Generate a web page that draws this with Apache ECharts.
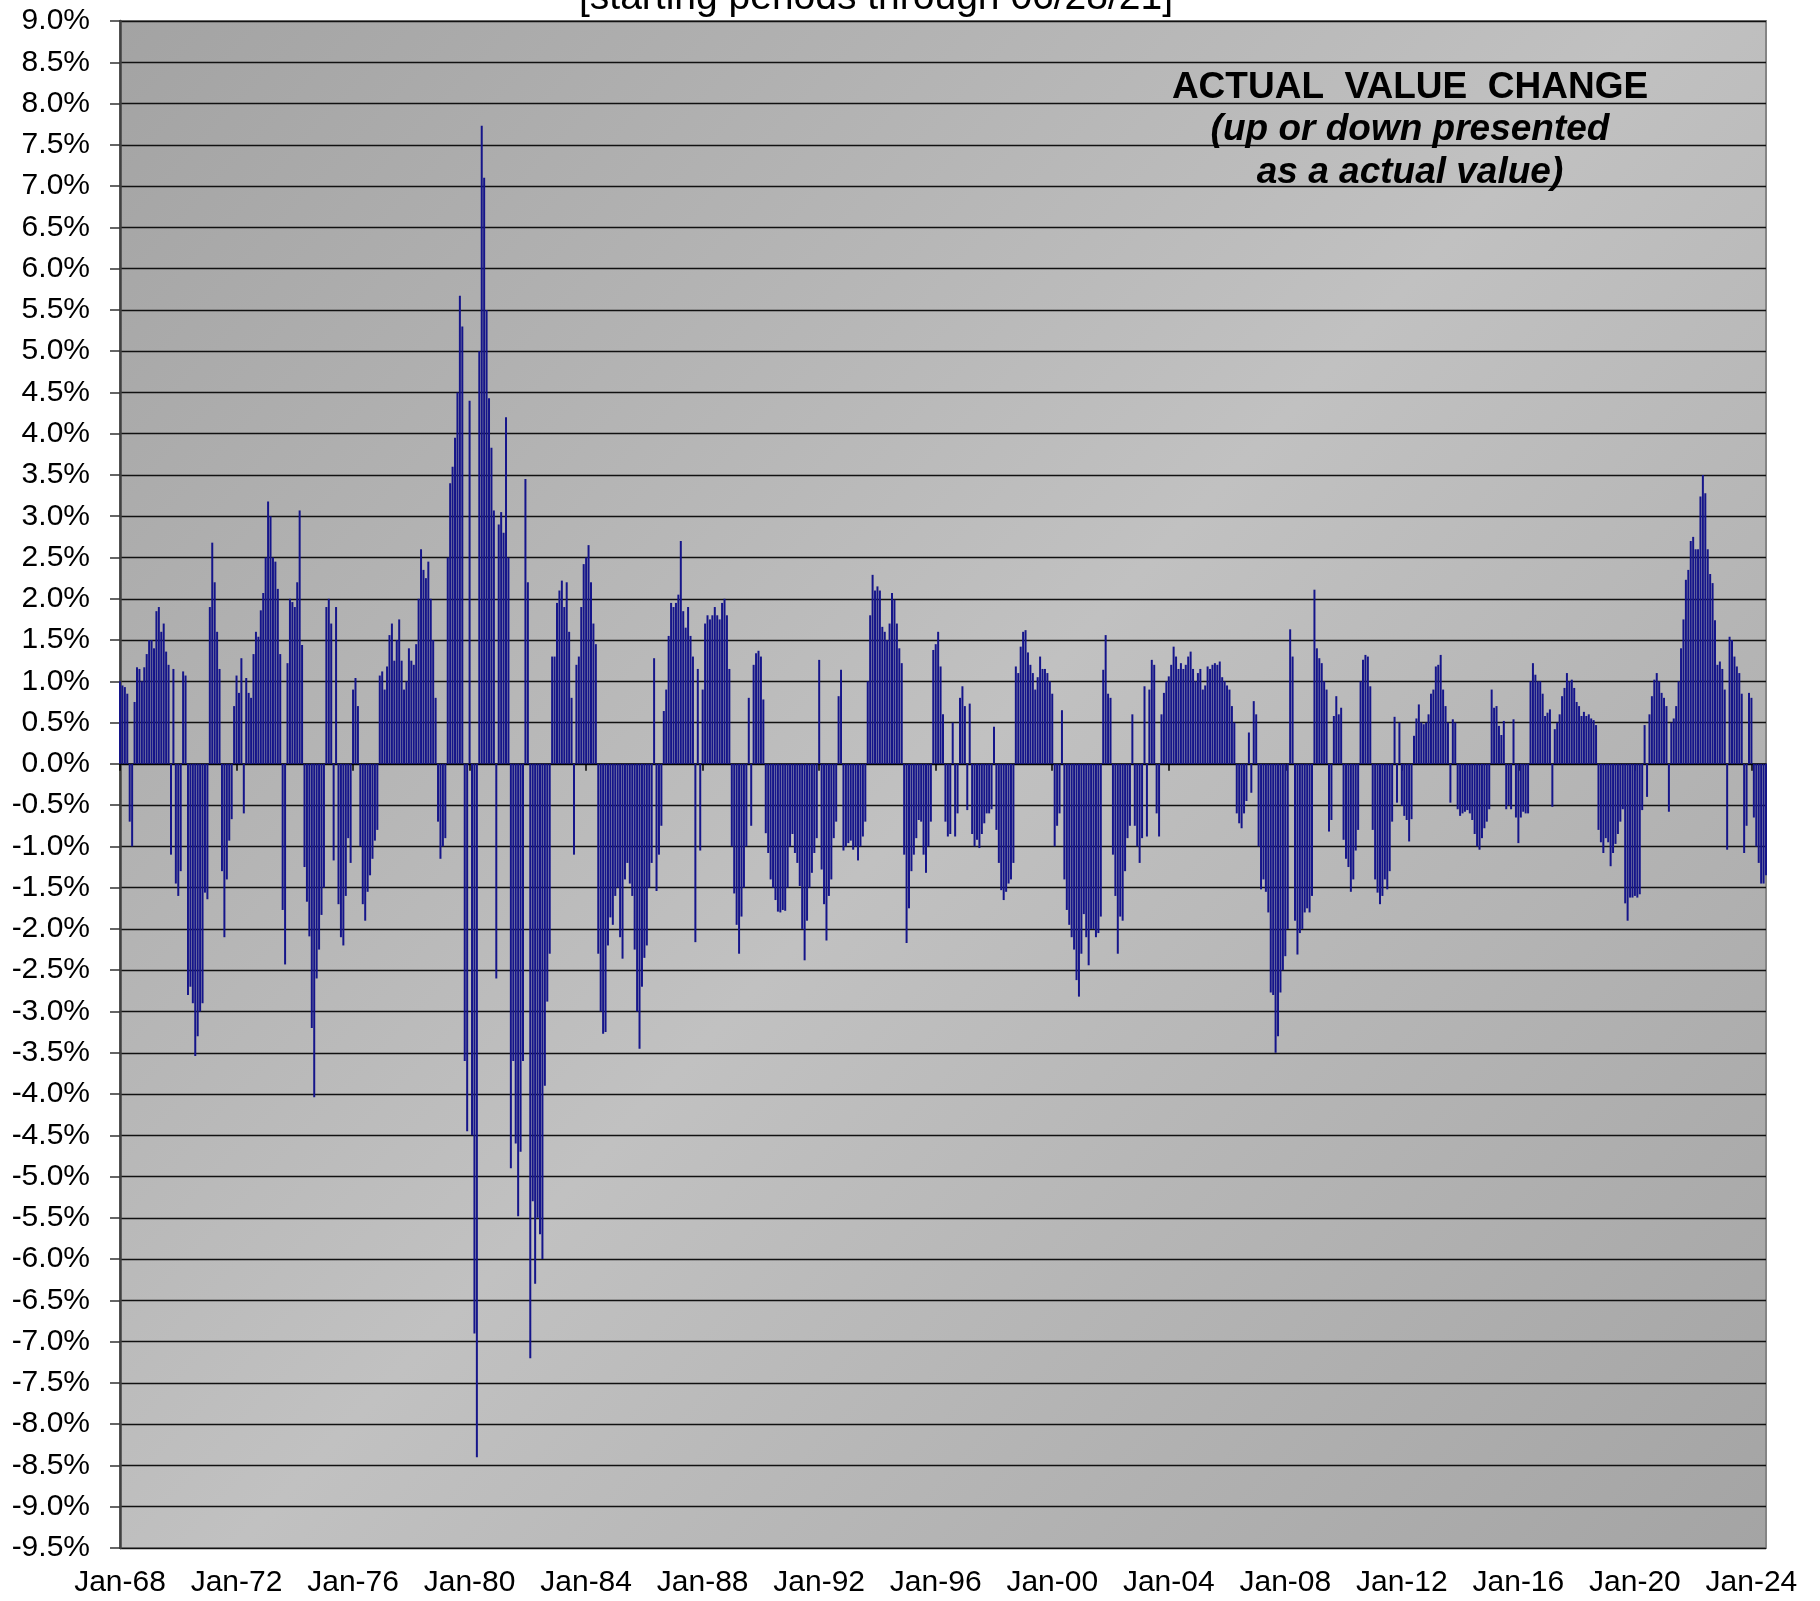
<!DOCTYPE html>
<html>
<head>
<meta charset="utf-8">
<script src="https://cdn.jsdelivr.net/npm/echarts@6/dist/echarts.min.js"></script>
<style>
html,body{margin:0;padding:0;background:#ffffff;}
#chart{width:1820px;height:1601px;}
</style>
</head>
<body>
<div id="chart"></div>
<script>
// ---- text ----
const titleText = '[starting periods through 06/28/21]';
const noteLines = ['ACTUAL  VALUE  CHANGE', '(up or down presented', 'as a actual value)'];
const monthNames = ['Jan','Feb','Mar','Apr','May','Jun','Jul','Aug','Sep','Oct','Nov','Dec'];
const startYear = 1968;
const labelEveryMonths = 48;   // tick labels Jan-68, Jan-72, ... Jan-24
const yMin = -9.5, yMax = 9.0, yStep = 0.5;

// ---- monthly values (%) ----
const v1968to1975 = [
  1.0, 0.95, 0.93, 0.85, -0.7, -1.0, 0.75, 1.17, 1.15, 1.0, 1.17, 1.33,
  1.5, 1.5, 1.4, 1.85, 1.9, 1.6, 1.7, 1.36, 1.2, -1.1, 1.15, -1.45,
  -1.6, -1.3, 1.12, 1.07, -2.8, -2.7, -2.9, -3.54, -3.3, -3.0, -2.9, -1.56,
  -1.64, 1.9, 2.68, 2.2, 1.6, 1.15, -1.3, -2.1, -1.4, -0.93, -0.67, 0.7,
  1.07, 0.86, 1.28, -0.6, 1.04, 0.86, 0.8, 1.33, 1.6, 1.54, 1.86, 2.07,
  2.5, 3.18, 3.0, 2.5, 2.45, 2.12, 1.33, -1.77, -2.43, 1.22, 2.0, 1.96,
  1.9, 2.2, 3.07, 1.44, -1.25, -1.67, -2.09, -3.2, -4.04, -2.6, -2.25, -1.83,
  -1.5, 1.9, 2.0, 1.7, -1.17, 1.9, -1.7, -2.1, -2.2, -1.6, -0.9, -1.2
];
const v1976to1983 = [
  0.9, 1.04, 0.7, -1.0, -1.7, -1.9, -1.55, -1.35, -1.15, -0.93, -0.8, 1.07,
  1.12, 0.9, 1.18, 1.56, 1.7, 1.25, 1.5, 1.75, 1.25, 0.9, 1.0, 1.4,
  1.25, 1.2, 1.45, 2.0, 2.6, 2.35, 2.25, 2.45, 2.0, 1.5, 0.8, -0.7,
  -1.15, -1.0, -0.9, 2.5, 3.4, 3.6, 3.95, 4.5, 5.67, 5.3, -3.6, -4.45,
  4.4, -4.5, -6.9, -8.4, 5.0, 7.73, 7.1, 5.5, 4.43, 3.83, 3.07, -2.6,
  2.9, 3.05, 2.8, 4.2, 2.5, -4.9, -3.6, -4.6, -5.48, -4.7, -3.6, 3.45,
  2.2, -7.2, -5.3, -6.3, -5.5, -5.7, -6.0, -3.9, -2.88, -2.3, 1.3, 1.3,
  1.95, 2.1, 2.22, 1.9, 2.2, 1.6, 0.8, -1.1, 1.2, 1.3, 1.9, 2.42
];
const v1984to1991 = [
  2.5, 2.65, 2.2, 1.7, 1.45, -2.3, -3.0, -3.27, -3.25, -2.2, -1.86, -1.95,
  -1.6, -1.5, -2.1, -2.36, -1.4, -1.2, -1.45, -1.6, -2.25, -3.0, -3.45, -2.7,
  -2.35, -2.2, -1.5, -1.2, 1.28, -1.54, -1.1, -0.75, 0.64, 0.9, 1.55, 1.95,
  1.9, 1.95, 2.05, 2.7, 1.85, 1.65, 1.9, 1.55, 1.3, -2.16, 1.15, -1.05,
  0.9, 1.7, 1.8, 1.75, 1.8, 1.9, 1.8, 1.75, 1.95, 2.0, 1.8, 1.15,
  -1.0, -1.57, -1.95, -2.3, -1.85, -1.5, -1.0, 0.8, -0.75, 1.2, 1.34, 1.37,
  1.3, 0.78, -0.84, -1.08, -1.4, -1.5, -1.65, -1.79, -1.8, -1.77, -1.78, -1.5,
  -1.0, -0.85, -1.08, -1.2, -1.48, -2.0, -2.38, -1.9, -1.5, -1.32, -1.08, -0.9
];
const v1992to1999 = [
  1.26, -1.28, -1.7, -2.14, -1.6, -1.4, -0.9, -0.7, 0.82, 1.14, -1.05, -1.0,
  -0.96, -0.93, -1.04, -1.0, -1.17, -1.0, -0.88, -0.7, 1.0, 1.8, 2.29, 2.1,
  2.15, 2.1, 1.66, 1.6, 1.5, 1.7, 2.07, 1.99, 1.7, 1.4, 1.22, -1.1,
  -2.17, -1.75, -1.3, -1.1, -0.9, -0.68, -0.7, -1.1, -1.32, -1.0, -0.7, 1.38,
  1.45, 1.6, 1.18, 0.6, -0.7, -0.88, -0.85, 0.5, -0.88, -0.6, 0.8, 0.94,
  0.7, -0.56, 0.73, -0.85, -1.0, -0.92, -1.02, -0.85, -0.72, -0.6, -0.6, -0.55,
  0.45, -0.8, -1.2, -1.53, -1.65, -1.55, -1.45, -1.4, -1.2, 1.18, 1.1, 1.42,
  1.6, 1.62, 1.35, 1.2, 1.1, 0.9, 1.05, 1.3, 1.15, 1.15, 1.1, 1.0
];
const v2000to2007 = [
  0.85, -1.0, -0.75, -0.6, 0.65, -1.4, -1.77, -1.95, -2.1, -2.25, -2.62, -2.82,
  -2.3, -1.82, -2.1, -2.44, -2.0, -2.0, -2.1, -2.05, -1.85, 1.14, 1.56, 0.85,
  0.8, -1.1, -1.6, -2.3, -1.85, -1.9, -1.3, -0.9, -0.75, 0.6, -0.75, -1.0,
  -1.2, -0.9, 0.94, -0.88, 0.9, 1.26, 1.2, -0.6, -0.88, 0.6, 0.86, 1.0,
  1.06, 1.2, 1.42, 1.3, 1.15, 1.22, 1.15, 1.2, 1.3, 1.36, 1.15, 1.0,
  1.1, 1.15, 0.9, 0.95, 1.18, 1.15, 1.2, 1.22, 1.2, 1.24, 1.05, 1.0,
  0.95, 0.9, 0.7, 0.5, -0.6, -0.72, -0.78, -0.6, -0.45, 0.38, -0.35, 0.76,
  0.6, -1.0, -1.52, -1.4, -1.55, -1.8, -2.77, -2.8, -3.5, -3.3, -2.77, -2.5
];
const v2008to2015 = [
  -2.33, -2.0, 1.63, 1.3, -1.9, -2.31, -2.05, -2.0, -1.8, -1.75, -1.8, -1.6,
  2.11, 1.4, 1.28, 1.22, 1.0, 0.9, -0.82, -0.68, 0.58, 0.82, 0.6, 0.68,
  -0.92, -1.15, -1.25, -1.55, -1.4, -1.05, -0.8, 1.0, 1.26, 1.32, 1.3, 0.94,
  -0.8, -1.4, -1.56, -1.7, -1.6, -1.4, -1.52, -1.3, -0.7, 0.57, -0.47, 0.5,
  -0.51, -0.63, -0.68, -0.94, -0.67, 0.34, 0.55, 0.72, 0.5, 0.48, 0.5, 0.6,
  0.85, 0.9, 1.18, 1.2, 1.32, 0.9, 0.7, 0.5, -0.47, 0.54, 0.5, -0.55,
  -0.63, -0.6, -0.58, -0.56, -0.6, -0.68, -0.85, -1.0, -1.04, -0.9, -0.78, -0.7,
  -0.55, 0.9, 0.68, 0.7, 0.46, 0.35, 0.52, -0.55, -0.5, -0.55, 0.54, -0.65
];
const v2016to2024 = [
  -0.96, -0.65, -0.58, -0.6, -0.6, 1.0, 1.22, 1.08, 1.0, 1.0, 0.85, 0.58,
  0.62, 0.66, -0.52, 0.42, 0.5, 0.6, 0.82, 0.92, 1.1, 1.0, 1.02, 0.92,
  0.75, 0.7, 0.58, 0.63, 0.58, 0.6, 0.55, 0.53, 0.47, -0.8, -0.95, -1.08,
  -0.9, -0.95, -1.24, -1.08, -0.97, -0.85, -0.7, -0.55, -1.69, -1.9, -1.62, -1.62,
  -1.6, -1.62, -1.58, -0.56, 0.47, -0.4, 0.6, 0.82, 1.02, 1.1, 1.0, 0.86,
  0.8, 0.7, -0.58, 0.5, 0.55, 0.7, 1.0, 1.4, 1.75, 2.23, 2.35, 2.7,
  2.75, 2.6, 2.6, 3.24, 3.5, 3.28, 2.6, 2.3, 2.19, 1.74, 1.2, 1.24,
  1.15, 0.9, -1.04, 1.54, 1.5, 1.3, 1.18, 1.1, 0.85, -1.08, -0.75, 0.86,
  0.8, -0.65, -1.0, -1.2, -1.45, -1.45, -1.35
];

const values = [].concat(v1968to1975, v1976to1983, v1984to1991, v1992to1999,
                         v2000to2007, v2008to2015, v2016to2024);
const categories = values.map(function (_, i) {
  const yr = (startYear + Math.floor(i / 12)) % 100;
  return monthNames[i % 12] + '-' + (yr < 10 ? '0' + yr : '' + yr);
});

const FONT = '"Liberation Sans", Arial, Helvetica, sans-serif';
const chart = echarts.init(document.getElementById('chart'), null, {renderer: 'canvas'});

const option = {
  animation: false,
  backgroundColor: '#ffffff',
  textStyle: {fontFamily: FONT},
  grid: {
    left: 120, top: 21, width: 1646, height: 1527,
    show: true,
    backgroundColor: {
      type: 'linear', x: 0, y: 0, x2: 1, y2: 1,
      colorStops: [
        {offset: 0, color: '#a3a3a3'},
        {offset: 0.5, color: '#c1c1c1'},
        {offset: 1, color: '#a4a4a4'}
      ]
    },
    borderColor: '#858585',
    borderWidth: 2
  },
  xAxis: [
    {
      type: 'category', data: categories, boundaryGap: false, position: 'bottom',
      axisLine: {show: true, onZero: true, lineStyle: {color: '#000', width: 1.5}},
      axisTick: {show: true, interval: function (i) { return i % labelEveryMonths === 0; },
                 length: 7, lineStyle: {color: '#000', width: 1.5}},
      axisLabel: {show: false},
      splitLine: {show: false}
    },
    {
      type: 'category', data: categories, boundaryGap: false, position: 'bottom',
      axisLine: {show: false, onZero: false},
      axisTick: {show: false},
      axisLabel: {show: true, interval: function (i) { return i % labelEveryMonths === 0; },
                  margin: 20, fontSize: 30, color: '#000', fontFamily: FONT},
      splitLine: {show: false}
    }
  ],
  yAxis: {
    type: 'value', min: yMin, max: yMax, interval: yStep,
    axisLine: {show: true, lineStyle: {color: '#404040', width: 2.5}},
    axisTick: {show: true, length: 10, lineStyle: {color: '#333', width: 1.5}},
    axisLabel: {formatter: function (v) { return v.toFixed(1) + '%'; },
                fontSize: 30, margin: 30, color: '#000', fontFamily: FONT},
    splitLine: {show: true, lineStyle: {color: '#111', width: 1.4}}
  },
  series: [{
    type: 'bar', data: values, xAxisIndex: 0, yAxisIndex: 0,
    barWidth: '82%', silent: true,
    itemStyle: {color: '#15158a'},
    emphasis: {disabled: true}
  }],
  graphic: [
    {type: 'text', x: 876, y: 18, z: 100, silent: true,
     style: {text: titleText, font: '39px ' + FONT, fill: '#000',
             textAlign: 'center', textVerticalAlign: 'bottom', align: 'center', verticalAlign: 'bottom'}},
    {type: 'text', x: 1410, y: 106, z: 100, silent: true,
     style: {text: noteLines[0], font: 'bold 37px ' + FONT, fill: '#000',
             textAlign: 'center', textVerticalAlign: 'bottom', align: 'center', verticalAlign: 'bottom'}},
    {type: 'text', x: 1410, y: 148, z: 100, silent: true,
     style: {text: noteLines[1], font: 'italic bold 37px ' + FONT, fill: '#000',
             textAlign: 'center', textVerticalAlign: 'bottom', align: 'center', verticalAlign: 'bottom'}},
    {type: 'text', x: 1410, y: 191, z: 100, silent: true,
     style: {text: noteLines[2], font: 'italic bold 37px ' + FONT, fill: '#000',
             textAlign: 'center', textVerticalAlign: 'bottom', align: 'center', verticalAlign: 'bottom'}}
  ]
};
chart.setOption(option);
</script>
</body>
</html>
